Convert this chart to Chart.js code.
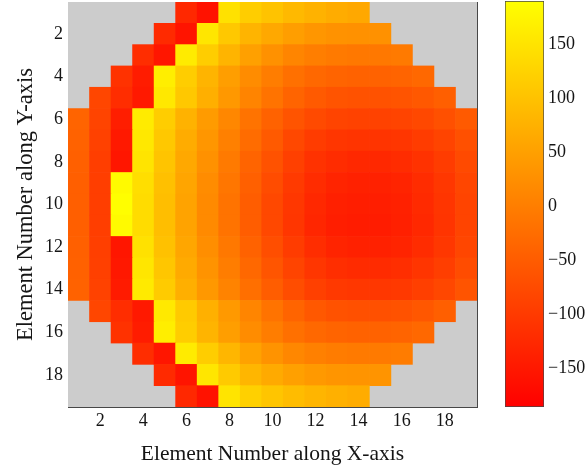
<!DOCTYPE html>
<html>
<head>
<meta charset="utf-8">
<script src="https://cdn.jsdelivr.net/npm/chart.js@4/dist/chart.umd.min.js"></script>
<style>
    html, body { margin: 0; padding: 0; background: #ffffff; }
    #wrap { position: relative; width: 587px; height: 472px; }
    #mapBox { position: absolute; left: 0; top: 0; width: 490px; height: 472px; }
    #barBox { position: absolute; left: 490px; top: 0; width: 97px; height: 472px; }
</style>
</head>
<body>
<div id="wrap">
    <div id="mapBox"><canvas id="phaseMap"></canvas></div>
    <div id="barBox"><canvas id="colorBar"></canvas></div>
</div>
<script>

// =========================================
// Data
// =========================================

const elementsX = [1, 2, 3, 4, 5, 6, 7, 8, 9, 10, 11, 12, 13, 14, 15, 16, 17, 18, 19];
const elementsY = [1, 2, 3, 4, 5, 6, 7, 8, 9, 10, 11, 12, 13, 14, 15, 16, 17, 18, 19];

const axisTicks = [2, 4, 6, 8, 10, 12, 14, 16, 18];
const colorTicks = [-150, -100, -50, 0, 50, 100, 150];
const colorRange = [-186, 190];

// phase (deg) of each element, one array per row, null = no element
const row01 = [null, null, null, null, null, -127, -160, 146, 116, 102, 87, 76, 68, 62, null, null, null, null, null];
const row02 = [null, null, null, null, -124, -157, 153, 109, 79, 62, 47, 35, 29, 28, 28, null, null, null, null];
const row03 = [null, null, null, -120, -154, 161, 116, 79, 50, 28, 10, 0, -6, -9, -9, -6, null, null, null];
const row04 = [null, null, -112, -145, 165, 116, 79, 47, 20, -2, -21, -33, -39, -41, -41, -39, -33, null, null];
const row05 = [null, -83, -120, -149, 156, 109, 72, 38, 9, -16, -39, -53, -62, -65, -65, -62, -56, -46, null];
const row06 = [-39, -86, -142, 161, 116, 76, 43, 13, -16, -41, -62, -77, -86, -89, -89, -86, -80, -68, -53];
const row07 = [-41, -90, -149, 156, 109, 68, 35, 3, -27, -53, -80, -98, -106, -109, -109, -106, -98, -86, -68];
const row08 = [-44, -95, -154, 150, 103, 62, 28, -6, -39, -65, -92, -112, -121, -127, -127, -121, -112, -98, -77];
const row09 = [-46, -95, 183, 141, 97, 57, 20, -12, -44, -74, -100, -121, -133, -137, -137, -133, -121, -105, -83];
const row10 = [-46, -95, 188, 138, 94, 54, 17, -16, -49, -80, -105, -127, -139, -142, -142, -137, -124, -108, -86];
const row11 = [-46, -95, 183, 138, 94, 54, 17, -16, -49, -80, -106, -130, -142, -145, -145, -139, -127, -109, -86];
const row12 = [-44, -93, -154, 146, 99, 59, 23, -9, -41, -71, -98, -120, -133, -137, -137, -133, -121, -105, -83];
const row13 = [-43, -92, -151, 153, 106, 65, 31, -2, -33, -61, -86, -106, -118, -123, -123, -118, -108, -95, -74];
const row14 = [-41, -89, -146, 159, 113, 72, 38, 7, -22, -49, -72, -92, -102, -105, -105, -102, -93, -81, -62];
const row15 = [null, -83, -120, -149, 158, 112, 74, 40, 10, -16, -39, -56, -65, -68, -68, -65, -58, -46, null];
const row16 = [null, null, -112, -145, 165, 116, 79, 47, 20, -2, -21, -33, -39, -41, -41, -39, -33, null, null];
const row17 = [null, null, null, -120, -154, 161, 116, 82, 53, 31, 13, 3, -3, -6, -6, -3, null, null, null];
const row18 = [null, null, null, null, -124, -157, 153, 112, 82, 65, 50, 40, 34, 32, 32, null, null, null, null];
const row19 = [null, null, null, null, null, -127, -160, 150, 121, 105, 91, 81, 74, 68, null, null, null, null, null];

const phaseRows = [
    row01, row02, row03, row04, row05, row06, row07, row08, row09, row10,
    row11, row12, row13, row14, row15, row16, row17, row18, row19
];


// =========================================
// Helpers
// =========================================

const frameColor = "#474747";
const textColor = "#151515";
const serif = "'Liberation Serif', 'Times New Roman', serif";

// red -> yellow colormap
function autumn(v) {
    const t = Math.min(1, Math.max(0,
        (v - colorRange[0]) / (colorRange[1] - colorRange[0])));
    return "rgb(255," + Math.round(255 * t) + ",0)";
}

function setTicks(list) {
    return function (axis) {
        axis.ticks = list.map(v => ({ value: v }));
    };
}

// fixed axis size, no extra room for end labels
function fixSize(key, size) {
    return function (s) {
        s[key] = size;
        s.paddingTop = 0;
        s.paddingBottom = 0;
        s.paddingLeft = 0;
        s.paddingRight = 0;
    };
}

function minusSign(v) {
    return v < 0 ? "\u2212" + Math.abs(v) : String(v);
}

// one floating bar per element, spanning its row
const cells = [];
phaseRows.forEach((row, r) => {
    row.forEach((v, c) => {
        if (v !== null) {
            cells.push({
                x: elementsX[c],
                y: [elementsY[r] - 0.5, elementsY[r] + 0.5],
                v: v
            });
        }
    });
});

// empty positions keep the axes colour
const maskFill = {
    id: "maskFill",
    beforeDatasetsDraw(chart) {
        const { ctx, chartArea: a } = chart;
        ctx.save();
        ctx.fillStyle = "#cccccc";
        ctx.fillRect(a.left, a.top, a.width, a.height);
        ctx.restore();
    }
};

const edgeGrid = {
    drawOnChartArea: false,
    tickLength: -4,
    tickColor: frameColor,
    color: frameColor
};


// =========================================
// Phase Map
// =========================================

new Chart(document.getElementById("phaseMap"), {

    type: "bar",

    data: {
        datasets: [{
            data: cells,
            backgroundColor: ctx => autumn(ctx.raw.v),
            borderWidth: 0,
            categoryPercentage: 1,
            barPercentage: 1
        }]
    },

    options: {
        responsive: true,
        maintainAspectRatio: false,
        animation: false,
        layout: { padding: { top: 2, right: 13, left: 0, bottom: 0 } },
        plugins: {
            legend: { display: false },
            tooltip: { enabled: false }
        },
        scales: {
            x: {
                type: "linear",
                position: "bottom",
                min: 0.5,
                max: 19.5,
                offset: false,
                z: 1,
                afterBuildTicks: setTicks(axisTicks),
                afterFit: fixSize("height", 65),
                grid: Object.assign({ offset: false }, edgeGrid),
                border: { color: frameColor, width: 1 },
                ticks: {
                    font: { family: serif, size: 18 },
                    color: textColor,
                    padding: 7,
                    maxRotation: 0
                },
                title: {
                    display: true,
                    text: "Element Number along X-axis",
                    font: { family: serif, size: 21.5 },
                    color: textColor,
                    padding: { top: 0, bottom: 5 }
                }
            },
            x2: {
                type: "linear",
                position: "top",
                min: 0.5,
                max: 19.5,
                offset: false,
                z: 1,
                afterBuildTicks: setTicks(axisTicks),
                afterFit: fixSize("height", 0),
                grid: edgeGrid,
                border: { color: frameColor, width: 1 },
                ticks: { display: false }
            },
            y: {
                type: "linear",
                position: "left",
                reverse: true,
                min: 0.5,
                max: 19.5,
                z: 1,
                afterBuildTicks: setTicks(axisTicks),
                afterFit: fixSize("width", 68),
                grid: edgeGrid,
                border: { color: frameColor, width: 1 },
                ticks: {
                    font: { family: serif, size: 18 },
                    color: textColor,
                    padding: 9
                },
                title: {
                    display: true,
                    text: "Element Number along Y-axis",
                    font: { family: serif, size: 22.5 },
                    color: textColor,
                    padding: { top: 13, bottom: 0 }
                }
            },
            y2: {
                type: "linear",
                position: "right",
                reverse: true,
                min: 0.5,
                max: 19.5,
                z: 1,
                afterBuildTicks: setTicks(axisTicks),
                afterFit: fixSize("width", 0),
                grid: edgeGrid,
                border: { color: frameColor, width: 1 },
                ticks: { display: false }
            }
        }
    },

    plugins: [maskFill]
});


// =========================================
// Colour Bar
// =========================================

new Chart(document.getElementById("colorBar"), {

    type: "bar",

    data: {
        labels: [""],
        datasets: [{
            data: [colorRange],
            backgroundColor(ctx) {
                const chart = ctx.chart;
                if (!chart.chartArea) {
                    return autumn(0);
                }
                const ys = chart.scales.y;
                const g = chart.ctx.createLinearGradient(
                    0, ys.getPixelForValue(colorRange[0]),
                    0, ys.getPixelForValue(colorRange[1]));
                g.addColorStop(0, autumn(colorRange[0]));
                g.addColorStop(1, autumn(colorRange[1]));
                return g;
            },
            borderColor: frameColor,
            borderWidth: 1,
            borderSkipped: false,
            categoryPercentage: 1,
            barPercentage: 1
        }]
    },

    options: {
        responsive: true,
        maintainAspectRatio: false,
        animation: false,
        layout: { padding: { top: 1, right: 0, left: 15, bottom: 65 } },
        plugins: {
            legend: { display: false },
            tooltip: { enabled: false }
        },
        scales: {
            x: { display: false },
            y: {
                type: "linear",
                position: "right",
                min: colorRange[0],
                max: colorRange[1],
                z: 1,
                afterBuildTicks: setTicks(colorTicks),
                afterFit: fixSize("width", 43),
                grid: edgeGrid,
                border: { display: false },
                ticks: {
                    font: { family: serif, size: 18 },
                    color: textColor,
                    padding: 8,
                    callback: minusSign
                }
            },
            yl: {
                type: "linear",
                position: "left",
                min: colorRange[0],
                max: colorRange[1],
                z: 1,
                afterBuildTicks: setTicks(colorTicks),
                afterFit: fixSize("width", 0),
                grid: edgeGrid,
                border: { display: false },
                ticks: { display: false }
            }
        }
    }
});

</script>
</body>
</html>
